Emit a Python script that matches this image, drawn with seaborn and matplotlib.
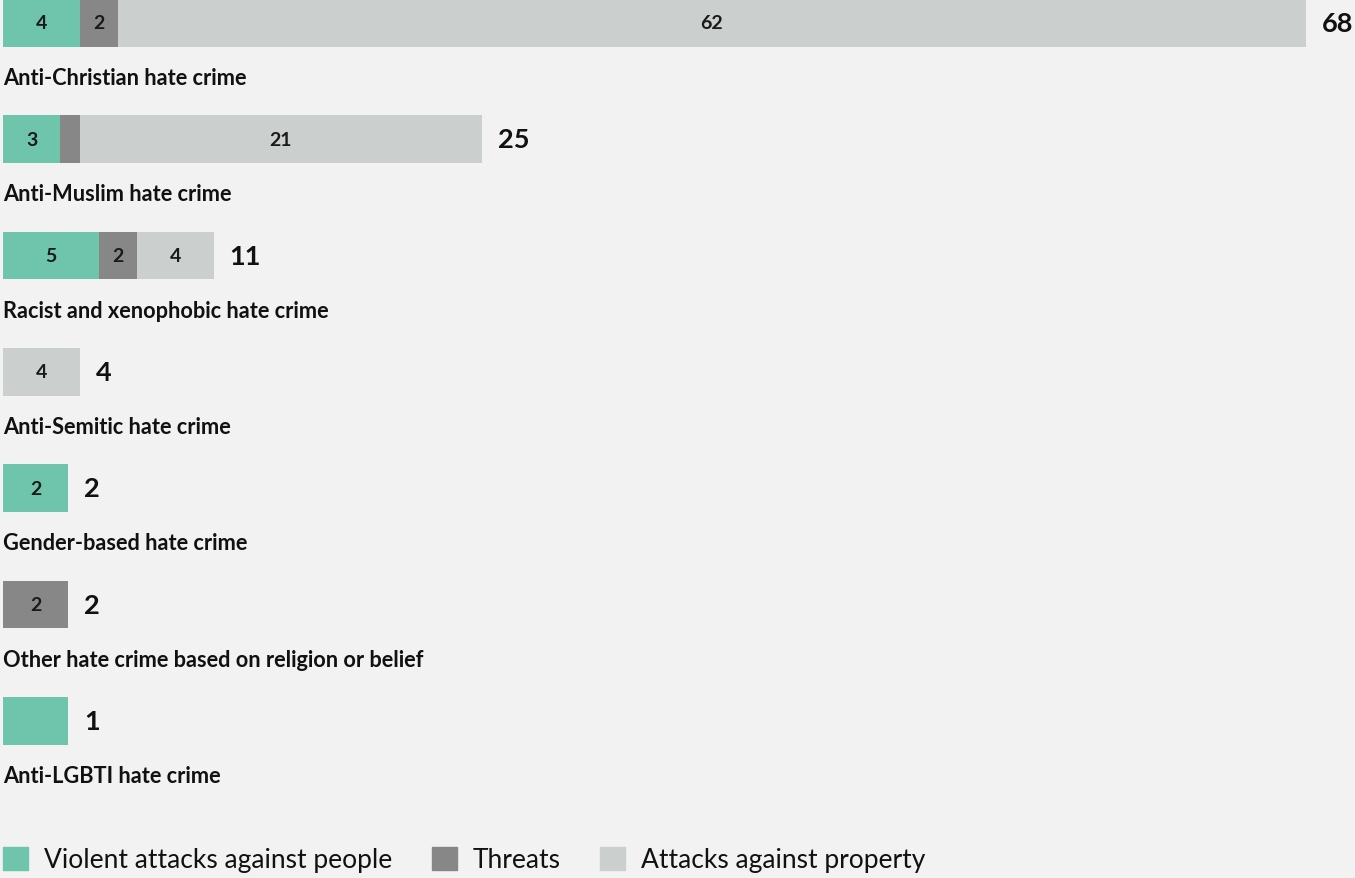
import numpy as np
import pandas as pd
import seaborn as sns
import matplotlib.pyplot as plt
import matplotlib.patches as mpatches

# data
categories = ['Anti-Christian hate crime', 'Anti-Muslim hate crime',
              'Racist and xenophobic hate crime', 'Anti-Semitic hate crime',
              'Gender-based hate crime', 'Other hate crime based on religion or belief',
              'Anti-LGBTI hate crime']
violent = [4, 3, 5, 0, 2, 0, 1]
threats = [2, 1, 2, 0, 0, 2, 0]
property_ = [62, 21, 4, 4, 0, 0, 0]
series_names = ['Violent attacks against people', 'Threats', 'Attacks against property']

colors = ['#6fc5ab', '#878787', '#cbcfce']
bg = '#f2f2f2'
MIN_BAR = 3.4   # very small bars get a minimum visible width

sns.set_theme(style='white')
plt.rcParams['font.family'] = ['Lato', 'DejaVu Sans']

df = pd.DataFrame({'cat': categories, 'v': violent, 't': threats, 'p': property_})
df['total'] = df[['v', 't', 'p']].sum(axis=1)
scale = np.maximum(df['total'], MIN_BAR) / df['total']
for c in ['v', 't', 'p']:
    df[c + '_d'] = df[c] * scale
df['c1'] = df['v_d']
df['c2'] = df['v_d'] + df['t_d']
df['c3'] = df['c2'] + df['p_d']

fig = plt.figure(figsize=(13.55, 8.79), dpi=100, facecolor=bg)
ax = fig.add_axes([3/1355, 0, 1352/1355, 1])
ax.set_facecolor(bg)

# stacked bars: draw cumulative totals from longest to shortest
for col, colr in zip(['c3', 'c2', 'c1'], colors[::-1]):
    sns.barplot(data=df, x=col, y='cat', order=categories, orient='h',
                color=colr, saturation=1, width=0.41, linewidth=0,
                edgecolor='none', ax=ax)

for i, row in df.iterrows():
    left = 0
    for c in ['v', 't', 'p']:
        w = row[c + '_d']
        if row[c] >= 2:
            ax.text(left + w / 2, i, str(int(row[c])), ha='center', va='center',
                    fontsize=14, fontweight='bold', color='#1a1a1a')
        left += w
    ax.annotate(str(int(row['total'])), xy=(row['c3'], i), xytext=(16, 0),
                textcoords='offset pixels', ha='left', va='center',
                fontsize=19.5, fontweight='bold', color='#111111')
    ax.text(0.02, i + 0.47, row['cat'], ha='left', va='center',
            fontsize=15.7, fontweight='bold', color='#111111')

ax.set_xlim(0, 1352 / 19.16)
ax.set_ylim(7.35, -0.206)
ax.axis('off')

handles = [mpatches.Patch(color=c, label=n) for c, n in zip(colors, series_names)]
fig.legend(handles=handles, loc='center left', bbox_to_anchor=(3/1355, 1 - 860.5/879),
           ncol=3, frameon=False, fontsize=19, handlelength=0.95, handleheight=0.95,
           handletextpad=0.6, columnspacing=1.5, borderpad=0, borderaxespad=0,
           labelcolor='#111111')

fig.savefig('out.png', dpi=100, facecolor=bg)
